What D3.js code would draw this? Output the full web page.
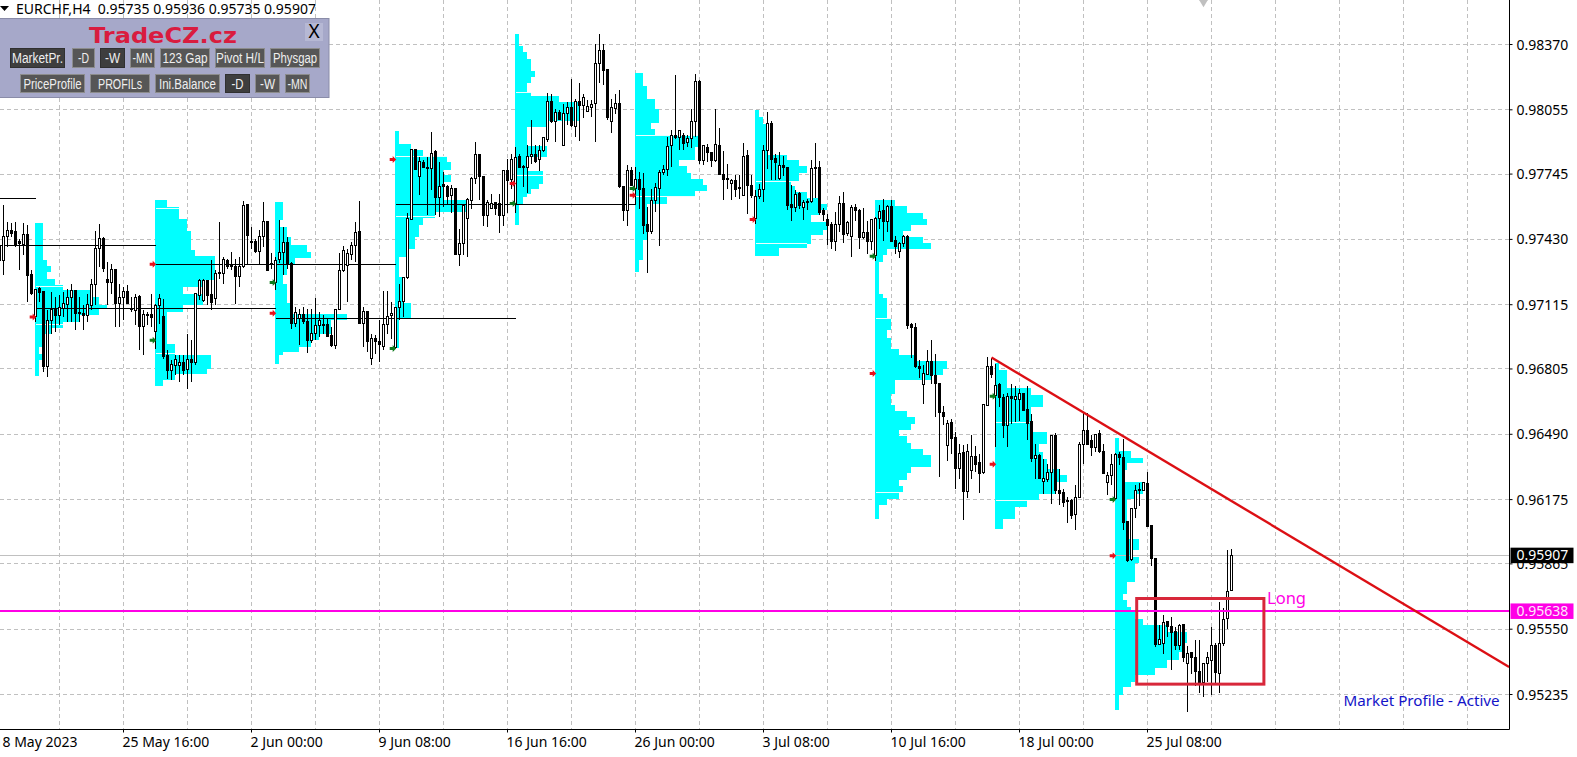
<!DOCTYPE html>
<html>
<head>
<meta charset="utf-8">
<script src="https://d3js.org/d3.v7.min.js"></script>
<style>
  html, body { margin: 0; padding: 0; background: #fff; overflow: hidden; }
  svg { display: block; }
  text { font-family: "Noto Sans", "DejaVu Sans", sans-serif; }
  .axis text { font-size: 14px; fill: #000; }
  .axis line { stroke: #000; }
</style>
</head>
<body>
<svg class="chart" width="1577" height="757"></svg>
<script>
// prices are in points (1 = 0.00001), time is the bar number on the H4 chart
var opens = [
  97326,97326,97442,97474,97466,97418,97407,97455,97262,97056,
  97191,97177,96818,97037,97096,97064,97096,97117,97152,97185,
  97078,97075,97064,97112,97212,97386,97434,97236,97220,97284,
  97123,97149,97177,97096,97088,97156,97008,97069,97069,96988,
  97109,97059,96871,96799,96824,96820,96836,96802,96850,96834,
  97160,97133,97230,97164,97144,97271,97265,97329,97305,97300,
  97252,97297,97599,97421,97421,97370,97442,97518,97314,97222,
  97333,97367,97415,97314,97024,97048,97068,97035,96944,96976,
  97013,97021,97021,96968,96916,97092,97281,97302,97359,97399,
  97466,97024,97084,96855,96952,96939,96915,97021,97061,96908,
  97101,97129,97244,97527,97863,97732,97801,97777,97770,97852,
  97632,97696,97687,97643,97675,97359,97410,97531,97619,97724,
  97841,97735,97547,97579,97608,97603,97547,97764,97720,97603,
  97828,97783,97775,97828,97841,97815,97857,97912,98097,97997,
  98042,97881,98037,98066,97973,98097,98077,98045,98064,98085,
  98278,98342,98251,97997,98061,98085,97686,97568,97764,97675,
  97720,97675,97502,97466,97616,97675,97751,97767,97881,97931,
  97921,97929,97895,97916,97997,98193,97812,97873,97849,97809,
  97884,97744,97723,97699,97715,97680,97643,97836,97691,97530,
  97635,97670,97857,97988,97820,97722,97787,97779,97599,97586,
  97651,97586,97614,97611,97776,97776,97570,97525,97503,97422,
  97501,97602,97458,97442,97583,97570,97437,97463,97422,97353,
  97533,97570,97514,97590,97426,97374,97410,97445,97019,97005,
  96818,96730,96780,96842,96775,96735,96595,96434,96546,96474,
  96323,96400,96212,96317,96384,96352,96304,96630,96818,96678,
  96731,96667,96534,96673,96657,96657,96686,96609,96553,96371,
  96386,96260,96273,96304,96485,96220,96209,96172,96169,96103,
  96185,96440,96510,96461,96426,96493,96408,96257,96292,96180,
  96394,96378,96068,95886,96132,96224,96221,96253,96052,95891,
  95476,95481,95585,95565,95537,95470,95574,95385,95436,95413,
  95347,95293,95385,95401,95473,95336,95481,95602,95735];
var highs = [
  97458,97595,97514,97511,97514,97434,97511,97498,97281,97189,
  97201,97177,97088,97177,97152,97160,97177,97193,97214,97185,
  97152,97112,97169,97241,97471,97506,97442,97321,97313,97289,
  97217,97201,97209,97152,97165,97160,97088,97080,97169,97120,
  97169,97144,96895,96847,96871,96871,96871,96972,96943,97169,
  97241,97241,97233,97329,97281,97514,97345,97337,97370,97337,
  97345,97616,97603,97490,97434,97474,97611,97518,97362,97346,
  97523,97490,97442,97322,97105,97096,97105,97096,97096,97145,
  97080,97064,97048,97008,97092,97362,97397,97386,97418,97515,
  97614,97105,97084,96976,96968,97040,97182,97182,97129,97105,
  97217,97246,97555,97868,97868,97828,97812,97828,97949,97860,
  97804,97756,97691,97691,97675,97482,97603,97632,97732,97899,
  97844,97735,97619,97651,97611,97648,97764,97820,97841,97876,
  97841,97788,97884,98005,97884,97884,97924,98138,98133,98061,
  98053,98085,98093,98206,98106,98182,98133,98101,98101,98371,
  98420,98371,98251,98109,98133,98150,97686,97791,97780,97780,
  97756,97748,97587,97675,97703,97764,97788,97924,97957,98222,
  97960,97941,97932,98061,98230,98198,97884,97892,97852,98061,
  97965,97857,97796,97723,97740,97740,97897,97860,97739,97667,
  97699,97884,98045,98001,97844,97852,97831,97779,97691,97667,
  97659,97619,97627,97812,97897,97808,97583,97551,97514,97562,
  97638,97659,97519,97594,97599,97578,97583,97517,97530,97538,
  97594,97623,97594,97619,97445,97418,97453,97453,97029,97027,
  96850,96823,96895,96947,96879,96738,96625,96561,96566,96501,
  96445,96437,96442,96485,96432,96397,96638,96863,96860,96831,
  96735,96686,96690,96731,96722,96710,96690,96722,96590,96445,
  96397,96373,96349,96485,96497,96325,96228,96188,96180,96244,
  96453,96593,96593,96485,96493,96509,96445,96308,96397,96400,
  96405,96465,96068,96132,96245,96253,96261,96309,96052,95891,
  95569,95618,95590,95610,95561,95577,95577,95468,95441,95497,
  95497,95388,95441,95561,95481,95682,95650,95931,95936];
var lows = [
  97305,97257,97394,97442,97394,97281,97353,97128,97160,97032,
  97128,96791,96767,96976,96984,97016,97056,97032,97032,96992,
  97032,96992,97032,97088,97112,97297,97273,97112,97169,97008,
  97008,97040,97120,97080,97016,96895,96871,97016,97008,96903,
  97024,96855,96759,96750,96775,96742,96775,96710,96742,96823,
  97136,97128,97112,97088,97112,97241,97217,97289,97281,97120,
  97201,97294,97305,97386,97362,97305,97394,97277,97289,97185,
  97314,97257,97289,97000,97008,96920,97024,96883,96928,96944,
  96960,96976,96960,96912,96900,97088,97273,97129,97330,97322,
  97021,96912,96887,96823,96879,96839,96895,96976,96952,96903,
  97040,97056,97241,97523,97764,97643,97772,97547,97667,97547,
  97539,97584,97595,97555,97355,97302,97354,97343,97579,97699,
  97619,97494,97490,97579,97547,97461,97495,97555,97675,97555,
  97772,97683,97654,97796,97799,97760,97852,97900,97989,97900,
  98005,97879,97981,97970,97924,97905,98016,98045,98018,97900,
  98185,98174,98005,97941,98037,97680,97519,97495,97686,97603,
  97579,97455,97270,97455,97563,97399,97740,97736,97777,97916,
  97863,97860,97876,97873,97924,97796,97788,97804,97780,97804,
  97740,97619,97675,97619,97635,97627,97638,97551,97631,97506,
  97627,97611,97771,97715,97715,97718,97734,97574,97519,97562,
  97578,97522,97574,97606,97631,97546,97519,97402,97385,97374,
  97466,97413,97445,97345,97519,97385,97434,97361,97381,97326,
  97482,97422,97466,97418,97361,97342,97393,96997,96860,96812,
  96763,96638,96775,96731,96571,96284,96534,96361,96397,96225,
  96276,96078,96183,96276,96308,96207,96300,96628,96763,96429,
  96622,96474,96429,96542,96550,96555,96603,96461,96357,96276,
  96273,96204,96260,96152,96204,96148,96140,96062,96083,96030,
  96185,96345,96437,96384,96405,96400,96300,96196,96244,96177,
  96341,96028,95875,95880,96084,96143,96217,96041,95854,95465,
  95473,95429,95513,95352,95449,95449,95393,95151,95336,95275,
  95240,95221,95293,95232,95288,95240,95468,95550,95735];
var closes = [
  97402,97442,97474,97458,97407,97410,97455,97257,97169,97189,
  97172,96818,97040,97091,97064,97101,97120,97152,97185,97075,
  97072,97062,97115,97214,97386,97434,97289,97220,97284,97123,
  97149,97177,97123,97091,97152,97008,97069,97066,97053,97112,
  97144,96866,96799,96828,96852,96836,96799,96850,96834,97169,
  97233,97230,97160,97128,97265,97265,97332,97300,97299,97249,
  97300,97595,97447,97413,97370,97442,97515,97281,97307,97330,
  97367,97413,97314,97024,97076,97068,97032,96941,96976,97016,
  97040,97013,96963,96920,97092,97281,97378,97362,97400,97463,
  97024,97084,96936,96952,96936,96923,97021,97060,97072,97101,
  97129,97246,97531,97865,97767,97804,97775,97770,97844,97632,
  97687,97683,97635,97675,97359,97410,97595,97622,97724,97841,
  97732,97547,97606,97603,97579,97547,97764,97715,97815,97825,
  97777,97780,97831,97839,97807,97860,97921,98097,97997,98042,
  98008,98037,98066,97978,98097,98077,98114,98072,98080,98278,
  98342,98246,98018,98066,98085,97683,97568,97764,97691,97720,
  97670,97495,97466,97616,97680,97752,97767,97879,97929,97921,
  97957,97892,97916,98000,98190,97812,97881,97847,97809,97887,
  97744,97720,97722,97715,97673,97674,97831,97688,97640,97638,
  97670,97860,97988,97816,97799,97787,97775,97595,97586,97648,
  97595,97607,97606,97771,97771,97562,97549,97498,97418,97501,
  97602,97455,97511,97583,97567,97437,97463,97421,97525,97533,
  97565,97514,97590,97422,97398,97410,97445,97016,97003,96815,
  96808,96783,96839,96772,96735,96593,96574,96542,96468,96323,
  96397,96212,96405,96384,96345,96299,96633,96818,96778,96726,
  96667,96534,96673,96661,96672,96686,96606,96542,96373,96386,
  96276,96276,96305,96482,96217,96204,96159,96164,96099,96185,
  96440,96506,96440,96426,96490,96405,96300,96292,96345,96394,
  96378,96063,95883,96132,96221,96217,96256,96047,95891,95478,
  95500,95582,95561,95534,95470,95569,95412,95433,95412,95344,
  95293,95385,95413,95473,95340,95481,95597,95730,95907];

// market profiles: one week each, row edges in points, row lengths in bars
var profileStarts = [9,39,69,99,129,159,189,219,249,279];
var profileLevels = [
  [97511,97329,97300,97273,97241,97209,97185,97152,97112,97096,97064,97032,97005,96976,96911,96879,96847,96771],
  [97619,97587,97530,97471,97381,97349,97233,97201,97169,97112,97080,96927,96871,96807,96783,96750,96723],
  [97608,97523,97490,97442,97402,97370,97338,97306,97257,97217,97185,97121,97072,97040,96976,96944,96912,96887,96871,96831],
  [97952,97889,97860,97831,97804,97767,97740,97708,97622,97563,97535,97498,97442,97386,97346,97249,97121,97048,96904],
  [98420,98363,98334,98299,98243,98214,98182,98138,98122,98093,98002,97973,97879,97825,97760,97699,97675,97651,97635,97603,97498],
  [98233,98169,98109,98058,97989,97961,97929,97876,97812,97783,97748,97720,97691,97662,97635,97600,97426,97330,97273],
  [98053,98021,97988,97836,97812,97783,97750,97710,97686,97659,97630,97599,97574,97546,97514,97474,97450,97410,97390,97350],
  [97619,97590,97559,97530,97498,97471,97442,97413,97382,97353,97321,97169,97145,97048,96992,96956,96903,96871,96842,96807,96778,96751,96686,96630,96603,96574,96542,96509,96482,96450,96418,96389,96333,96304,96268,96239,96210,96180,96148,96080],
  [96834,96799,96715,96678,96622,96550,96501,96445,96405,96373,96325,96292,96260,96204,96172,96140,96083,96032],
  [96470,96410,96378,96352,96320,96261,96204,96176,95987,95931,95899,95867,95778,95722,95690,95658,95634,95598,95569,95537,95481,95441,95401,95365,95328,95296,95272,95232,95159]
];
var profileWidths = [
  [2,3,4,3,5,7,14,16,18,16,11,7,4,2,1,2,1],
  [3,6,8,9,10,15,12,7,12,7,3,5,14,13,5,2],
  [2,1,3,4,8,9,5,3,2,3,3,4,18,14,11,9,6,2,1],
  [1,4,7,13,14,12,14,12,18,10,7,6,5,3,1,2,4,1],
  [1,2,3,4,5,4,3,4,11,16,8,3,8,3,7,6,4,3,2,1],
  [2,3,5,6,4,5,16,15,11,13,14,17,18,15,8,3,2,1],
  [1,2,3,8,11,13,11,9,10,13,16,18,16,14,18,17,14,13,6],
  [5,8,12,13,9,7,12,14,3,2,1,2,3,4,3,4,6,10,18,17,14,5,4,5,8,10,9,6,8,9,12,14,9,8,6,7,6,3,1],
  [1,3,9,12,9,9,13,11,12,13,16,18,15,11,8,5,2],
  [1,4,7,3,2,7,5,3,6,4,6,5,3,2,3,4,5,7,13,18,17,16,13,10,5,4,2,1]
];
// value area edges per profile, empty where none shows
var valueAreaEdges = [
  [97201,97019],[97579,96880],[],[97831,97542],[98138,97740],
  [97929,97638],[97710,97410],[97048,96210],[96548,96172],[]
];

// POC lines: from bar, to bar, price
var pocFrom = [-1,-1,39,9,69,99];
var pocTo = [9,39,99,69,129,159];
var pocPrice = [97627,97402,97309,97097,97048,97598];

var redArrowBars = [9,39,69,99,129,159,189,219,249,279];
var redArrowPrices = [97056,97310,97074,97815,97700,97643,97526,96783,96346,95904];
var greenArrowBars = [39,69,99,129,159,219,249,279];
var greenArrowPrices = [96944,97222,96904,97603,97675,97349,96674,96176];

var trendBars = [248,377.4];
var trendPrices = [96860,95368];
var boxBars = [284.3,316.1];
var boxPrices = [95698,95285];
var longPrice = 95638;
var lastPrice = 95907;

var priceTicks = [98370,98055,97745,97430,97115,96805,96490,96175,95865,95550,95235];
var timeTicks = [-1,31,63,95,127,159,191,223,255,287];
var timeLabels = ["18 May 2023","25 May 16:00","2 Jun 00:00","9 Jun 08:00","16 Jun 16:00","26 Jun 00:00","3 Jul 08:00","10 Jul 16:00","18 Jul 00:00","25 Jul 08:00"];

var panelRow1 = ["MarketPr.","-D","-W","-MN","123 Gap","Pivot H/L","Physgap"];
var panelRow2 = ["PriceProfile","PROFILs","Ini.Balance","-D","-W","-MN"];

var axisRightX = 1509.5, axisBottomY = 729.5;
var barStep = 4;
var x = d3.scaleLinear().domain([0,378]).range([-0.5,1511.5]);
var y = d3.scaleLinear().domain([95235,98370]).range([694.5,44.5]);
var fmt = function(d){ return (d/100000).toFixed(5); };

var svg = d3.select(".chart");

// grid
var gridBars = d3.range(15,370,16);
var grid = svg.append("g").attr("stroke","#c0c0c0").attr("stroke-dasharray","4,3").attr("shape-rendering","crispEdges");
grid.selectAll(".v").data(gridBars).enter().append("line")
  .attr("x1",function(d){return x(d);}).attr("x2",function(d){return x(d);})
  .attr("y1",0).attr("y2",axisBottomY);
grid.selectAll(".h").data(priceTicks).enter().append("line")
  .attr("x1",0).attr("x2",axisRightX)
  .attr("y1",function(d){return y(d);}).attr("y2",function(d){return y(d);});

// the small grey marker at the top edge
svg.append("path").attr("fill","#c0c0c0")
  .attr("d",d3.symbol(d3.symbolDiamond,60))
  .attr("transform","translate("+x(301)+","+y(98584)+")");

// profiles
var profiles = svg.append("g").attr("fill","#00ffff").attr("shape-rendering","crispEdges");
profileStarts.forEach(function(start,p){
  var levels = profileLevels[p];
  profiles.selectAll(null).data(profileWidths[p]).enter().append("rect")
    .attr("x",x(start)-0.5)
    .attr("y",function(d,k){return Math.round(y(levels[k]));})
    .attr("width",function(d){return d*barStep;})
    .attr("height",function(d,k){return Math.round(y(levels[k+1]))-Math.round(y(levels[k]));});
  // value area edges show up as thin white lines
  valueAreaEdges[p].forEach(function(v){
    var k = levels.findIndex(function(l,i){return i<levels.length-1 && v<=l && v>levels[i+1];});
    if (k<0) return;
    svg.append("line").attr("stroke","#eaffff").attr("shape-rendering","crispEdges")
      .attr("x1",x(start)).attr("x2",x(start)-0.5+profileWidths[p][k]*barStep)
      .attr("y1",y(v)).attr("y2",y(v));
  });
});

// POC lines
svg.append("g").attr("stroke","#000").attr("shape-rendering","crispEdges")
  .selectAll("line").data(pocPrice).enter().append("line")
  .attr("x1",function(d,i){return x(pocFrom[i]);})
  .attr("x2",function(d,i){return x(pocTo[i]);})
  .attr("y1",function(d){return Math.floor(y(d))+0.5;})
  .attr("y2",function(d){return Math.floor(y(d))+0.5;});

// last price line
svg.append("line").attr("stroke","#c0c0c0").attr("x1",0).attr("x2",axisRightX)
  .attr("y1",Math.floor(y(lastPrice))+0.5).attr("y2",Math.floor(y(lastPrice))+0.5);

// candles
var candles = svg.append("g").attr("shape-rendering","crispEdges");
var bars = d3.range(opens.length);
candles.selectAll(".wick").data(bars).enter().append("line")
  .attr("stroke","#000")
  .attr("x1",function(i){return x(i);}).attr("x2",function(i){return x(i);})
  .attr("y1",function(i){return y(highs[i]);}).attr("y2",function(i){return y(lows[i]);});
candles.selectAll(".body").data(bars).enter().append("rect")
  .attr("x",function(i){return x(i)-1;})
  .attr("width",2)
  .attr("y",function(i){return y(Math.max(opens[i],closes[i]));})
  .attr("height",function(i){return Math.max(1,Math.abs(y(opens[i])-y(closes[i])));})
  .attr("fill",function(i){return closes[i]>=opens[i]?"#fff":"#000";})
  .attr("stroke","#000");

// arrows
function arrow(bars,prices,color){
  svg.append("g").attr("fill",color).selectAll("path").data(prices).enter().append("path")
    .attr("d","M-3,-1.5H0V-3.5L3.5,0L0,3.5V1.5H-3Z")
    .attr("transform",function(d,i){return "translate("+(x(bars[i])-2.8)+","+y(d)+")";});
}
arrow(redArrowBars,redArrowPrices,"#e8101a");
arrow(greenArrowBars,greenArrowPrices,"#0c7a1a");

// drawn objects
svg.append("line").attr("stroke","#ff00e6").attr("stroke-width",2)
  .attr("x1",0).attr("x2",axisRightX).attr("y1",y(longPrice)).attr("y2",y(longPrice));
svg.append("line").attr("stroke","#dc0f14").attr("stroke-width",2.4)
  .attr("x1",x(trendBars[0])).attr("x2",x(trendBars[1]))
  .attr("y1",y(trendPrices[0])).attr("y2",y(trendPrices[1]));
svg.append("rect").attr("fill","none").attr("stroke","#d8273a").attr("stroke-width",3)
  .attr("x",x(boxBars[0])).attr("width",x(boxBars[1])-x(boxBars[0]))
  .attr("y",y(boxPrices[0])).attr("height",y(boxPrices[1])-y(boxPrices[0]));
svg.append("text").attr("x",1267).attr("y",604).attr("fill","#ff00e6").style("font-size","16.5px").text("Long");
svg.append("text").attr("x",1343.5).attr("y",706).attr("fill","#1414c8").style("font-size","15.2px").text("Market Profile - Active");

// axes
var yAxis = svg.append("g").attr("class","axis").attr("transform","translate("+axisRightX+",0)")
  .call(d3.axisRight(y).tickValues(priceTicks).tickFormat(fmt).tickSize(3).tickPadding(4).offset(0));
yAxis.select(".domain").remove();
yAxis.selectAll(".tick text").attr("dy","0.36em");
var xAxis = svg.append("g").attr("class","axis").attr("transform","translate(0,"+axisBottomY+")")
  .call(d3.axisBottom(x).tickValues(timeTicks).tickFormat(function(d,i){return timeLabels[i];}).tickSize(3).tickPadding(0).offset(0));
xAxis.select(".domain").remove();
xAxis.selectAll(".tick text").attr("text-anchor","start").attr("dx",-1).attr("y",17.5).attr("dy",0);
svg.append("line").attr("stroke","#000").attr("x1",0).attr("x2",axisRightX).attr("y1",axisBottomY).attr("y2",axisBottomY);
svg.append("line").attr("stroke","#000").attr("x1",axisRightX).attr("x2",axisRightX).attr("y1",0).attr("y2",axisBottomY);

// price flags on the axis
function flag(price,bg,fg){
  var top = y(price)-7.5;
  svg.append("rect").attr("x",axisRightX+1).attr("y",top).attr("width",63).attr("height",15.5).attr("fill",bg);
  svg.append("text").attr("x",1516.5).attr("y",y(price)+5).attr("fill",fg).style("font-size","14px").text(fmt(price));
}
flag(lastPrice,"#000","#fff");
flag(longPrice,"#ff00e6","#ffe6fb");

// header line
svg.append("path").attr("fill","#000").attr("d","M0,6H9L4.5,11Z");
svg.append("text").attr("x",16).attr("y",14).attr("fill","#000").style("font-size","14px")
  .attr("xml:space","preserve").text("EURCHF,H4  0.95735 0.95936 0.95735 0.95907");

// button panel
var panel = svg.append("g");
panel.append("rect").attr("x",-1).attr("y",18.5).attr("width",330).attr("height",79).attr("fill","#a6a8c9").attr("stroke","#8a8ca8");
panel.append("text").attr("x",163).attr("y",42.5).attr("text-anchor","middle").attr("fill","#d91c3f")
  .style("font-family","'DejaVu Sans'").style("font-weight","bold").style("font-size","22px")
  .attr("textLength",148).attr("lengthAdjust","spacingAndGlyphs").text("TradeCZ.cz");
panel.append("rect").attr("x",305).attr("y",23).attr("width",18).attr("height",18).attr("fill","#b6b8d4");
panel.append("text").attr("x",314).attr("y",38).attr("text-anchor","middle").attr("fill","#000").style("font-size","19px").text("X");

var row1Left = [10,72,100,130,160,215,270], row1Width = [55,23,25,25,50,50,50], row1Text = [51,11,15,20,45,48,44];
var row2Left = [20,90,155,225,255,285], row2Width = [65,60,65,25,25,25], row2Text = [58,44,57,12,15,20];
var row1Down = [true,false,true,false,false,false,false];
var row2Down = [false,false,false,true,false,false];
function buttons(labels,lefts,widths,textWidths,down,top,h){
  labels.forEach(function(label,i){
    panel.append("rect").attr("x",lefts[i]+0.5).attr("y",top+0.5).attr("width",widths[i]-1).attr("height",h-1)
      .attr("fill",down[i]?"#3e3e3e":"#565656").attr("stroke",down[i]?"#303030":"#8c8c8c");
    panel.append("text").attr("x",lefts[i]+(widths[i]-textWidths[i])/2).attr("y",top+h/2+5).attr("fill","#efefef")
      .style("font-family","'Liberation Sans'").style("font-size","14px")
      .attr("textLength",textWidths[i]).attr("lengthAdjust","spacingAndGlyphs").text(label);
  });
}
buttons(panelRow1,row1Left,row1Width,row1Text,row1Down,48,20);
buttons(panelRow2,row2Left,row2Width,row2Text,row2Down,74,19);
</script>
</body>
</html>
